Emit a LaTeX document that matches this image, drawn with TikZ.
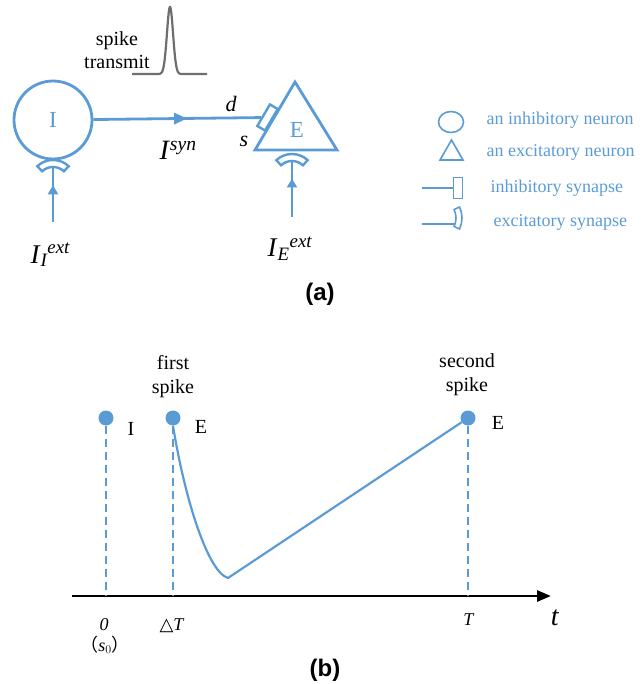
\documentclass[tikz,border=0pt]{standalone}
\usepackage{amsmath}
\usepackage{fontspec}
\setmainfont{Liberation Serif}
\newfontfamily\sansfont{Liberation Sans}
\newfontfamily\cjkfont{Noto Sans CJK SC}
\newfontfamily\djvfont{DejaVu Sans}
\usetikzlibrary{arrows.meta,decorations.markings,shapes.geometric}
\definecolor{nblue}{RGB}{91,155,213}
\definecolor{spikegray}{RGB}{110,110,110}
\newcommand\fsz[2]{\fontsize{#1}{#2}\selectfont}
\begin{document}
\begin{tikzpicture}[x=1pt,y=-1pt,
  nline/.style={draw=nblue, line width=2.8pt, line join=miter},
  lline/.style={draw=nblue, line width=1.6pt},
  midarrow/.style={postaction={decorate}, decoration={markings, mark=at position #1 with {\arrow{Triangle[length=13pt,width=11pt]}}}},
  uparrow/.style={postaction={decorate}, decoration={markings, mark=at position #1 with {\arrow{Triangle[length=9pt,width=10pt]}}}},
  legtext/.style={anchor=base west, text=nblue, font=\fsz{18}{18}},
  blacklab/.style={font=\fsz{20}{24}, align=center},
  spikedot/.style={circle, fill=nblue, minimum size=15pt, inner sep=0pt},
  vdash/.style={draw=nblue, line width=2.6pt, dash pattern=on 8pt off 5pt},
  caption/.style={font=\sansfont\bfseries\fsz{24}{24}}
]
\useasboundingbox (0,0) rectangle (641,684);

% ---------- (a) ----------
% spike pulse
\node[blacklab, font=\fsz{20}{23}] (st) at (117,50) {spike\\transmit};
\coordinate (sp0) at (132,74);
\coordinate (sp1) at (207,74);
\draw[spikegray, line width=2.2pt] (sp0) -- plot[domain=154:186, samples=120, smooth] (\x,{74-67*exp(-((\x-170)/4.3)^2)}) -- (sp1);

% inhibitory neuron
\node[circle, draw=nblue, line width=2.8pt, fill=white, minimum size=78pt, inner sep=0pt, text=nblue, font=\fsz{23}{23}] (I) at (53,120) {I};

% excitatory neuron
\coordinate (Ea) at (295,82);
\coordinate (Eb) at (255,150);
\coordinate (Ec) at (337,150);
\draw[nline] (Ea) -- (Eb) -- (Ec) -- cycle;
\node[text=nblue, font=\fsz{23}{23}] (Elab) at (297,130) {E};

% inhibitory synapse on E
\node[draw=nblue, line width=2.4pt, fill=white, minimum width=25pt, minimum height=9pt, inner sep=0pt, rotate=59.5] (syn) at (267.5,117.5) {};
\draw[nline, midarrow=0.56] (I) -- (syn);

\node[anchor=base west, font=\fsz{22}{22}] (dlab) at (222,112) {\textit{d}};
\node[anchor=base west, font=\fsz{22}{22}] (slab) at (236,147) {\textit{s}};
\node[anchor=base west, font=\fsz{28}{28}] (Isyn) at (156,160) {\textit{I}$^{\textit{syn}}$};

% excitatory synapse under I
\coordinate (Icap) at (53,183);
\draw[draw=nblue, line width=2.4pt, fill=white] ([shift={(-133:23)}]Icap) arc[start angle=-133, end angle=-47, radius=23] -- ([shift={(-47:16)}]Icap) arc[start angle=-47, end angle=-133, radius=16] -- cycle;
\coordinate (Ibot) at (53,222);
\coordinate (Itop) at (53,168);
\draw[nline, uparrow=0.68] (Ibot) -- (Itop);
\node[anchor=base west, font=\fsz{27}{27}] (Iext) at (27,263) {\textit{I}$_{\textit{I}}{}^{\textit{ext}}$};

% excitatory synapse under E
\coordinate (Ecap) at (292,177);
\draw[draw=nblue, line width=2.4pt, fill=white] ([shift={(-133:23)}]Ecap) arc[start angle=-133, end angle=-47, radius=23] -- ([shift={(-47:16)}]Ecap) arc[start angle=-47, end angle=-133, radius=16] -- cycle;
\coordinate (Ebot) at (292,217);
\coordinate (Etop) at (292,162);
\draw[nline, uparrow=0.7] (Ebot) -- (Etop);
\node[anchor=base west, font=\fsz{27}{27}] (Eext) at (264,257) {\textit{I}$_{\textit{E}}{}^{\textit{ext}}$};

% legend
\node[lline, ellipse, minimum width=25pt, minimum height=21pt, inner sep=0pt] (lc) at (451,122) {};
\node[legtext] (t1) at (483,125) {an inhibitory neuron};
\coordinate (lta) at (451.5,140);
\coordinate (ltb) at (440,160);
\coordinate (ltc) at (463,160);
\draw[lline] (lta) -- (ltb) -- (ltc) -- cycle;
\node[legtext] (t2) at (483,157) {an excitatory neuron};
\node[lline, minimum width=9pt, minimum height=21pt, inner sep=0pt] (lrect) at (458,188) {};
\coordinate (lr0) at (422,188);
\draw[lline] (lr0) -- (lrect);
\node[legtext] (t3) at (487,193) {inhibitory synapse};
\coordinate (lex) at (436,218);
\draw[lline] ([shift={(-25:26)}]lex) arc[start angle=-25, end angle=25, radius=26] -- ([shift={(25:20)}]lex) arc[start angle=25, end angle=-25, radius=20] -- cycle;
\coordinate (le0) at (422,224);
\coordinate (le1) at (455.3,224);
\draw[lline] (le0) -- (le1);
\node[legtext] (t4) at (490,227) {excitatory synapse};

\node[caption] (capa) at (320,294) {(a)};

% ---------- (b) ----------
\coordinate (ax0) at (72,596);
\coordinate (ax1) at (551,596);
\draw[line width=2.8pt, -{Triangle[length=14pt,width=11pt]}] (ax0) -- (ax1);

\node[spikedot] (d1) at (106,418) {};
\node[spikedot] (d2) at (173,418) {};
\node[spikedot] (d3) at (468,418) {};
\coordinate (a1) at (106,596);
\coordinate (a2) at (173,596);
\coordinate (a3) at (468,596);
\draw[vdash] (d1) -- (a1);
\draw[vdash] (d2) -- (a2);
\draw[vdash] (d3) -- (a3);

\coordinate (vmin) at (228,578);
\draw[draw=nblue, line width=2.2pt, line join=round] (d2.south) .. controls (185,500) and (208,572) .. (vmin) -- (d3);

\node[anchor=base, font=\fsz{20}{20}] (lI) at (131,435) {I};
\node[anchor=base, font=\fsz{20}{20}] (lE1) at (201,433) {E};
\node[anchor=base, font=\fsz{20}{20}] (lE2) at (498,429) {E};
\node[blacklab] (fs) at (173,377) {first\\spike};
\node[blacklab] (ss) at (467,375) {second\\spike};

\node[anchor=base, font=\fsz{18}{18}] (t0) at (104,630) {\textit{0}};
\node[anchor=base, font=\fsz{18}{18}] (ts0) at (105,651) {{\cjkfont （}\textit{s}$_{0}${\cjkfont ）}};
\node[anchor=base, font=\fsz{18}{18}] (tdT) at (172,630) {{\djvfont △}\textit{T}};
\node[anchor=base, font=\fsz{18}{18}] (tT) at (469,625) {\textit{T}};
\node[anchor=base, font=\fsz{28}{28}] (tt) at (555,625) {\textit{t}};

\node[caption] (capb) at (325,670) {(b)};
\end{tikzpicture}
\end{document}
